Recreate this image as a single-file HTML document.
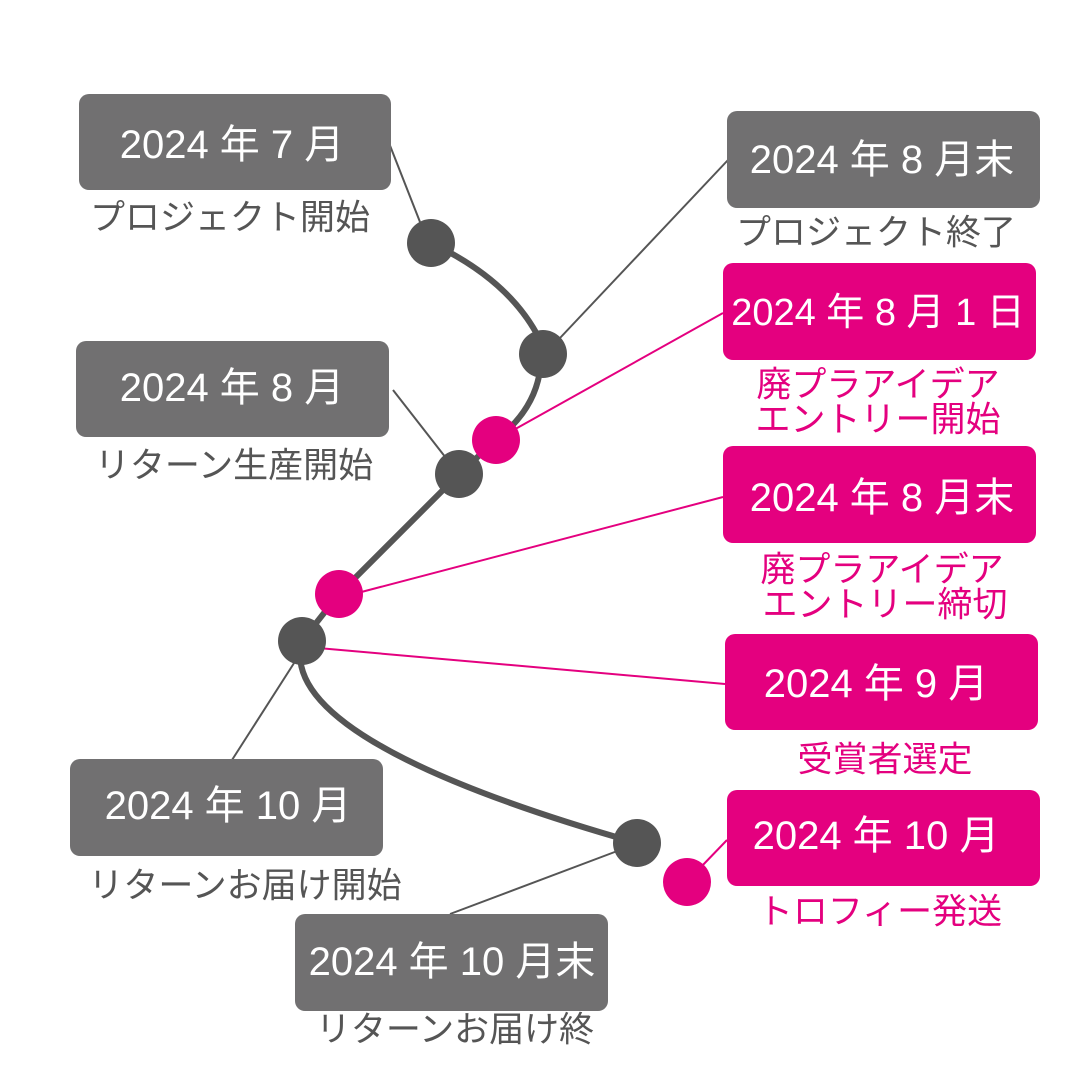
<!DOCTYPE html>
<html><head><meta charset="utf-8"><style>
html,body{margin:0;padding:0;background:#fff;}
svg{display:block;}
text{font-family:"Liberation Sans","Noto Sans CJK JP",sans-serif;}
</style></head><body>
<svg width="1080" height="1080" viewBox="0 0 1080 1080" xmlns="http://www.w3.org/2000/svg">
<rect width="1080" height="1080" fill="#fff"/>
<g stroke-width="2" fill="none">
<line x1="389" y1="143" x2="420" y2="222" stroke="#555"/>
<line x1="728" y1="160" x2="560" y2="338" stroke="#555"/>
<line x1="723" y1="313" x2="510" y2="432" stroke="#e4007f"/>
<line x1="393" y1="390" x2="446" y2="458" stroke="#555"/>
<line x1="723" y1="497" x2="350" y2="595" stroke="#e4007f"/>
<line x1="725" y1="684" x2="318" y2="648" stroke="#e4007f"/>
<line x1="296" y1="660" x2="232" y2="760" stroke="#555"/>
<line x1="620" y1="850" x2="450" y2="914" stroke="#555"/>
<line x1="727" y1="840" x2="700" y2="868" stroke="#e4007f"/>
</g>
<path d="M431,243 Q510,280 540,340 Q548,400 496,440 L459,474 L339,594 L302,641 C280,720 450,790 637,843" stroke="#555" stroke-width="6" fill="none"/>
<g fill="#555">
<circle cx="431" cy="243" r="24"/>
<circle cx="543" cy="354" r="24"/>
<circle cx="459" cy="474" r="24"/>
<circle cx="302" cy="641" r="24"/>
<circle cx="637" cy="843" r="24"/>
</g>
<g fill="#e4007f">
<circle cx="496" cy="440" r="24"/>
<circle cx="339" cy="594" r="24"/>
<circle cx="687" cy="882" r="24"/>
</g>
<g>
<rect x="79" y="94" width="312" height="96" rx="10" fill="#717071"/>
<rect x="727" y="111" width="313" height="97" rx="10" fill="#717071"/>
<rect x="723" y="263" width="313" height="97" rx="10" fill="#e4007f"/>
<rect x="76" y="341" width="313" height="96" rx="10" fill="#717071"/>
<rect x="723" y="446" width="313" height="97" rx="10" fill="#e4007f"/>
<rect x="725" y="634" width="313" height="96" rx="10" fill="#e4007f"/>
<rect x="70" y="759" width="313" height="97" rx="10" fill="#717071"/>
<rect x="727" y="790" width="313" height="96" rx="10" fill="#e4007f"/>
<rect x="295" y="914" width="313" height="97" rx="10" fill="#717071"/>
</g>
<g fill="#fff" font-size="40" text-anchor="middle" dominant-baseline="central">
<text x="232" y="145">2024 年 7 月</text>
<text x="882" y="160">2024 年 8 月末</text>
<text x="878" y="313" font-size="38">2024 年 8 月 1 日</text>
<text x="232" y="388">2024 年 8 月</text>
<text x="882" y="498">2024 年 8 月末</text>
<text x="876" y="684">2024 年 9 月</text>
<text x="228" y="806">2024 年 10 月</text>
<text x="876" y="836">2024 年 10 月</text>
<text x="452" y="962">2024 年 10 月末</text>
</g>
<g font-size="35" text-anchor="middle" dominant-baseline="central">
<text x="230" y="218" fill="#555">プロジェクト開始</text>
<text x="876" y="233" fill="#555">プロジェクト終了</text>
<text x="878" y="385" fill="#e4007f">廃プラアイデア</text>
<text x="878" y="420" fill="#e4007f">エントリー開始</text>
<text x="234" y="466" fill="#555">リターン生産開始</text>
<text x="882" y="570" fill="#e4007f">廃プラアイデア</text>
<text x="885" y="605" fill="#e4007f">エントリー締切</text>
<text x="885" y="760" fill="#e4007f">受賞者選定</text>
<text x="245" y="886" fill="#555">リターンお届け開始</text>
<text x="880" y="912" fill="#e4007f">トロフィー発送</text>
<text x="455" y="1030" fill="#555">リターンお届け終</text>
</g>
</svg>
</body></html>
